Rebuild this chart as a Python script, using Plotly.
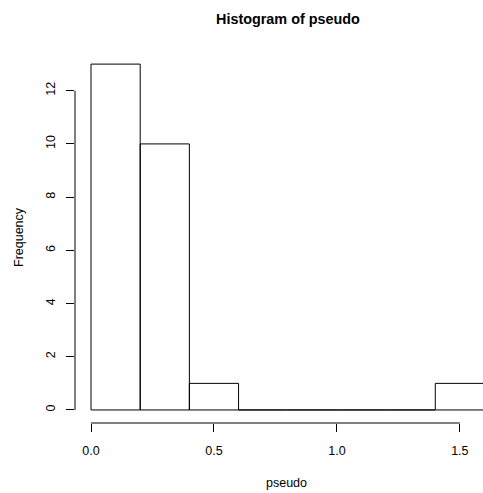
import plotly.graph_objects as go

# Data
bin_edges = [0.0, 0.2, 0.4, 0.6, 0.8, 1.0, 1.2, 1.4, 1.6]
counts = [13, 10, 1, 0, 0, 0, 0, 1]
x_ticks = [0.0, 0.5, 1.0, 1.5]
x_tick_labels = ["0.0", "0.5", "1.0", "1.5"]
y_ticks = [0, 2, 4, 6, 8, 10, 12]
y_tick_labels = ["0", "2", "4", "6", "8", "10", "12"]

# Build rectangle outlines for each bin (R-style hist)
xs, ys = [], []
for i, c in enumerate(counts):
    l, r = bin_edges[i], bin_edges[i + 1]
    xs += [l, l, r, r, l, None]
    ys += [0, c, c, 0, 0, None]

FONT = "Liberation Sans, Arial, Helvetica, sans-serif"

fig = go.Figure()
fig.add_trace(go.Scatter(
    x=xs, y=ys, mode="lines", fill="toself", fillcolor="white",
    line=dict(color="black", width=1), hoverinfo="skip", showlegend=False,
))

W, H = 483, 493
ml, mr, mt, mb = 75, 0, 50, 70

fig.update_layout(
    width=W, height=H,
    margin=dict(l=ml, r=mr, t=mt, b=mb, pad=0),
    paper_bgcolor="white", plot_bgcolor="white",
    font=dict(family=FONT, size=12, color="black"),
    showlegend=False,
    xaxis=dict(
        range=[-0.0651, 1.5941], tickvals=x_ticks, ticktext=x_tick_labels,
        showgrid=False, zeroline=False, showline=False,
        ticks="outside", ticklen=8, tickwidth=1, tickcolor="black",
        ticklabelstandoff=8, tickfont=dict(size=12.5),
    ),
    yaxis=dict(
        range=[-0.49, 13.53], tickvals=y_ticks, ticktext=y_tick_labels,
        showgrid=False, zeroline=False, showline=False,
        ticks="outside", ticklen=8, tickwidth=1, tickcolor="black",
        tickangle=-90, ticklabelstandoff=6, tickfont=dict(size=12.5),
    ),
    shapes=[
        dict(type="line", xref="x", yref="paper", x0=x_ticks[0], x1=x_ticks[-1],
             y0=0, y1=0, line=dict(color="black", width=1)),
        dict(type="line", xref="paper", yref="y", x0=0, x1=0,
             y0=y_ticks[0], y1=y_ticks[-1], line=dict(color="black", width=1)),
    ],
    annotations=[
        dict(text="<b>Histogram of pseudo</b>", xref="paper", yref="paper",
             x=(288 - ml) / (W - ml - mr), y=(H - mb - 19) / (H - mt - mb),
             xanchor="center", yanchor="middle", showarrow=False,
             font=dict(size=14.4, family=FONT)),
        dict(text="pseudo", xref="paper", yref="paper",
             x=(286 - ml) / (W - ml - mr), y=(H - mb - 483) / (H - mt - mb),
             xanchor="center", yanchor="middle", showarrow=False,
             font=dict(size=12.5, family=FONT)),
        dict(text="Frequency", xref="paper", yref="paper",
             x=(19 - ml) / (W - ml - mr), y=(H - mb - 237) / (H - mt - mb),
             xanchor="center", yanchor="middle", showarrow=False, textangle=-90,
             font=dict(size=12.5, family=FONT)),
    ],
)

fig.write_html("out.html")
